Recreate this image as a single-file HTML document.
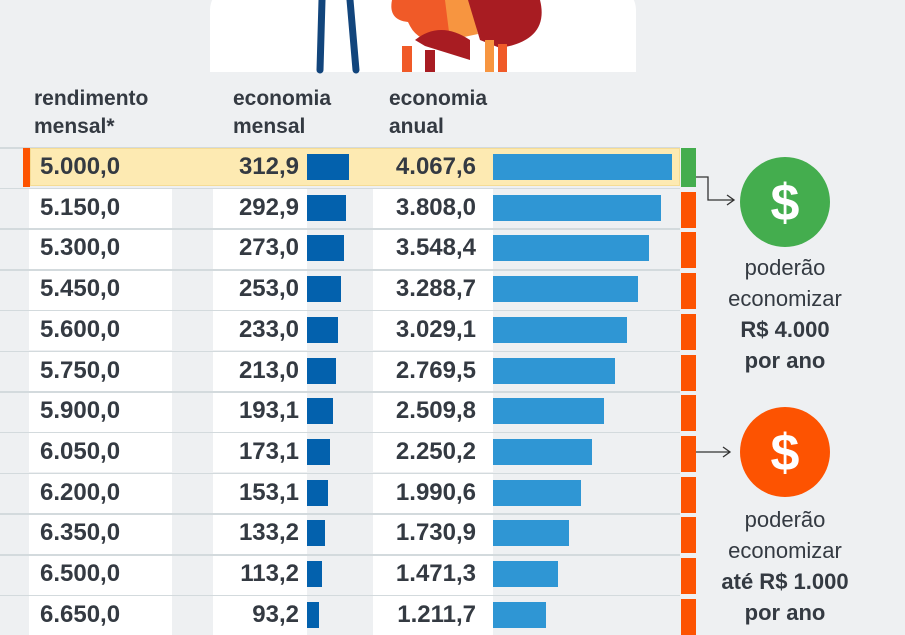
<!DOCTYPE html>
<html><head><meta charset="utf-8"><style>
body{margin:0;width:905px;height:613px;overflow:hidden;background:#eef0f2;font-family:"Liberation Sans",sans-serif;color:#343a42;position:relative}
.a{position:absolute}
.h{font-weight:bold;font-size:21px;line-height:28px}
.n{font-weight:bold;font-size:24px;line-height:40px;text-align:right}
.t{font-size:22px;text-align:center;width:180px;left:695px;line-height:31px}
</style></head><body>
<div class="a" style="left:210px;top:-60px;width:426px;height:132px;background:#fff;border-radius:50% 50% 0 0/70px 70px 0 0"></div>
<svg class="a" style="left:300px;top:0" width="260" height="74">
<path d="M22 0 L20 70 M50 0 L56 70" stroke="#12457c" stroke-width="7" stroke-linecap="round" fill="none"/>
<path d="M92 0 Q88 20 108 22 L110 26 Q120 45 150 42 L152 0 Z" fill="#f05a28"/>
<path d="M145 0 L170 0 L178 34 L150 40 Z" fill="#f79540"/>
<path d="M168 0 L240 0 Q250 40 200 48 L180 40 Z" fill="#a81c22"/>
<path d="M115 40 Q140 20 170 40 L170 60 L125 46 Z" fill="#a81c22"/>
<rect x="102" y="46" width="10" height="26" fill="#f05a28"/>
<rect x="125" y="50" width="10" height="22" fill="#a81c22"/>
<rect x="185" y="40" width="9" height="32" fill="#f79540"/>
<rect x="198" y="44" width="9" height="28" fill="#f05a28"/>
</svg>
<div class="a h" style="left:34px;top:85px">rendimento<br>mensal*</div>
<div class="a h" style="left:233px;top:85px">economia<br>mensal</div>
<div class="a h" style="left:389px;top:85px">economia<br>anual</div>
<div id="rows"></div>
<svg class="a" style="left:690px;top:150px" width="215" height="400">
<path d="M6 27 H18 V50 H43" stroke="#333" stroke-width="1.3" fill="none"/><path d="M37 45 L44 50 L37 55" stroke="#333" stroke-width="1.3" fill="none"/>
<path d="M6 302 H40" stroke="#333" stroke-width="1.3" fill="none"/><path d="M33 297 L40 302 L33 307" stroke="#333" stroke-width="1.3" fill="none"/>
<circle cx="95" cy="52" r="45" fill="#44ad4e"/><circle cx="95" cy="302" r="45" fill="#fd5301"/>
<text x="95" y="70" font-family="Liberation Sans" font-weight="bold" font-size="52" fill="#fff" text-anchor="middle">$</text>
<text x="95" y="320" font-family="Liberation Sans" font-weight="bold" font-size="52" fill="#fff" text-anchor="middle">$</text>
</svg>
<div class="a t" style="top:252px">poderão<br>economizar<br><b>R$ 4.000</b><br><b>por ano</b></div>
<div class="a t" style="top:504px">poderão<br>economizar<br><b>até R$ 1.000</b><br><b>por ano</b></div>
<script>
var d=[["5.000,0","312,9",312.9,"4.067,6",4067.6],["5.150,0","292,9",292.9,"3.808,0",3808],["5.300,0","273,0",273,"3.548,4",3548.4],["5.450,0","253,0",253,"3.288,7",3288.7],["5.600,0","233,0",233,"3.029,1",3029.1],["5.750,0","213,0",213,"2.769,5",2769.5],["5.900,0","193,1",193.1,"2.509,8",2509.8],["6.050,0","173,1",173.1,"2.250,2",2250.2],["6.200,0","153,1",153.1,"1.990,6",1990.6],["6.350,0","133,2",133.2,"1.730,9",1730.9],["6.500,0","113,2",113.2,"1.471,3",1471.3],["6.650,0","93,2",93.2,"1.211,7",1211.7]];
var h="";
d.forEach(function(r,i){var y=147+40.7*i;
h+='<div class="a" style="left:0;top:'+y+'px;width:680px;height:1.5px;background:#d3dadd"></div>';
if(i==0){h+='<div class="a" style="left:30px;top:'+(y+1)+'px;width:650px;height:38px;background:#fdeab2;border:1px solid #f5dc95;box-sizing:border-box"></div><div class="a" style="left:23px;top:'+(y+1)+'px;width:7px;height:39px;background:#fd5301"></div>';}
else{h+='<div class="a" style="left:29px;top:'+(y+1.5)+'px;width:143px;height:39px;background:#fff"></div><div class="a" style="left:213px;top:'+(y+1.5)+'px;width:94px;height:39px;background:#fff"></div><div class="a" style="left:373px;top:'+(y+1.5)+'px;width:120px;height:39px;background:#fff"></div>';}
h+='<div class="a n" style="left:40px;top:'+y+'px;width:112px;text-align:left">'+r[0]+'</div>';
h+='<div class="a n" style="left:190px;top:'+y+'px;width:109px">'+r[1]+'</div>';
h+='<div class="a n" style="left:350px;top:'+y+'px;width:126px">'+r[3]+'</div>';
h+='<div class="a" style="left:307px;top:'+(y+7)+'px;width:'+(r[2]*0.134)+'px;height:26px;background:#0361ad"></div>';
h+='<div class="a" style="left:493px;top:'+(y+7)+'px;width:'+(r[4]*0.0441)+'px;height:26px;background:#2f96d4"></div>';
h+='<div class="a" style="left:681px;top:'+(y+(i?4:1))+'px;width:15px;height:'+(i?36:39)+'px;background:'+(i?'#fd5301':'#44ad4e')+'"></div>';
});
document.getElementById('rows').innerHTML=h;
</script>
</body></html>
